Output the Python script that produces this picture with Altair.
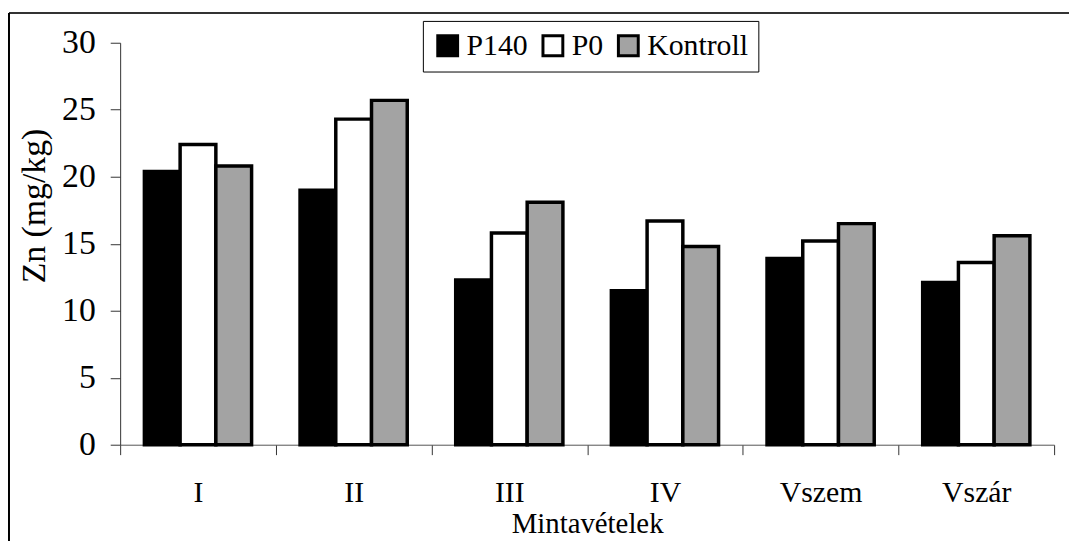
import altair as alt
import pandas as pd

categories = ["I", "II", "III", "IV", "Vszem", "Vszár"]
series = ["P140", "P0", "Kontroll"]
p140 = [20.4, 19.0, 12.3, 11.5, 13.9, 12.1]
p0 = [22.4, 24.3, 15.8, 16.7, 15.2, 13.6]
kontroll = [20.8, 25.7, 18.1, 14.8, 16.5, 15.6]
colors = ["#000000", "#ffffff", "#a3a3a3"]

rows = []
for s, vals in zip(series, [p140, p0, kontroll]):
    for c, v in zip(categories, vals):
        rows.append({"Mintavételek": c, "Sorozat": s, "Zn": v})
df = pd.DataFrame(rows)

FONT = "Times New Roman, Liberation Serif, serif"

bars = alt.Chart(df).mark_bar(stroke="black", strokeWidth=3.5).encode(
    x=alt.X("Mintavételek:N", sort=categories,
            scale=alt.Scale(paddingInner=0, paddingOuter=0),
            axis=alt.Axis(title="Mintavételek", labelAngle=0, tickBand="extent",
                          tickSize=10, labelPadding=23, titlePadding=2,
                          domainColor="#555555", tickColor="#333333",
                          labelFontSize=30, titleFontSize=29)),
    xOffset=alt.XOffset("Sorozat:N", sort=series,
                        scale=alt.Scale(paddingInner=0, paddingOuter=0.678)),
    y=alt.Y("Zn:Q", scale=alt.Scale(domain=[0, 30]),
            axis=alt.Axis(title="Zn (mg/kg)", values=[0, 5, 10, 15, 20, 25, 30],
                          tickSize=10, labelPadding=15,
                          titleX=-86, titleY=164, titleBaseline="middle",
                          domainColor="#333333", tickColor="#333333",
                          grid=False, labelFontSize=34, titleFontSize=34)),
    fill=alt.Fill("Sorozat:N", sort=series,
                  scale=alt.Scale(domain=series, range=colors),
                  legend=alt.Legend(title=None, orient="none", direction="horizontal",
                                    legendX=305, legendY=-22,
                                    symbolType="square", symbolSize=400,
                                    symbolStrokeColor="black", symbolStrokeWidth=3,
                                    labelFontSize=30, labelOffset=4, columnPadding=9,
                                    strokeColor="black", padding=10,
                                    labelColor="black")),
)

frame = alt.Chart(pd.DataFrame({"k": [0]})).mark_rule(color="#333333", strokeWidth=2, clip=False).encode(
    x=alt.value(-112), x2=alt.value(960), y=alt.value(-30)
)
frame_left = alt.Chart(pd.DataFrame({"k": [0]})).mark_rule(color="black", strokeWidth=2, clip=False).encode(
    x=alt.value(-112), y=alt.value(-30), y2=alt.value(520)
)

chart = alt.layer(bars, frame, frame_left).properties(
    width=941, height=405,
    autosize=alt.AutoSizeParams(type="none"),
    padding={"left": 113, "top": 33, "right": 15, "bottom": 95},
).configure(font=FONT).configure_view(stroke=None).configure_axis(
    labelFont=FONT, titleFont=FONT, labelColor="black", titleColor="black",
    titleFontWeight="normal"
).configure_legend(labelFont=FONT)

chart.save("out.html", embed_options={"renderer": "svg", "actions": False})
